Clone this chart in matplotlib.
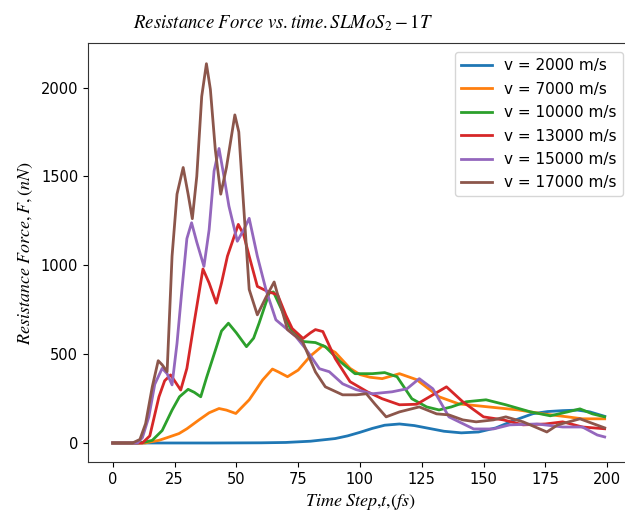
import matplotlib
matplotlib.use("Agg")
import matplotlib.pyplot as plt

plt.rcParams['mathtext.fontset'] = 'stix'

labels = ["v = 2000 m/s", "v = 7000 m/s", "v = 10000 m/s",
          "v = 13000 m/s", "v = 15000 m/s", "v = 17000 m/s"]

t_2000 = [0, 20, 40, 60, 70, 80, 90, 95, 100, 105, 110, 116, 122, 128, 134, 141, 148, 155, 162, 170, 176, 182, 188, 193, 199]
f_2000 = [0, 0, 0, 1, 3, 10, 25, 40, 60, 82, 100, 107, 98, 82, 66, 57, 62, 85, 125, 165, 177, 182, 185, 175, 150]

t_7000 = [0, 13, 18.7, 22, 26.8, 30, 34.9, 39, 43, 46, 49.8, 55.2, 58, 60.6, 64.6, 67, 70.7, 75, 80, 85, 90, 96, 100, 104, 109, 116, 123, 132, 140, 152, 164, 174, 184, 190, 199]
f_7000 = [0, 0, 15, 30, 53, 80, 130, 170, 194, 185, 166, 243, 300, 354, 416, 400, 373, 410, 490, 548, 510, 420, 385, 370, 362, 390, 356, 260, 220, 203, 186, 164, 147, 136, 136]

t_10000 = [0, 10, 13, 16, 20, 24, 27, 30.5, 33, 35.6, 38, 41.6, 44, 46.8, 50, 54.1, 57, 59.2, 63.3, 65, 68, 72, 77, 82, 86, 92, 98, 105, 110, 115, 121, 127, 132, 137, 143, 151, 159, 169, 177, 184, 189, 194, 199]
f_10000 = [0, 0, 5, 15, 70, 185, 260, 302, 285, 260, 370, 525, 630, 674, 620, 542, 590, 674, 844, 850, 760, 640, 571, 565, 542, 458, 390, 390, 396, 373, 249, 203, 186, 203, 232, 243, 215, 175, 153, 175, 192, 164, 147]

t_13000 = [0, 12, 15, 18.7, 21, 23.4, 25.5, 27.5, 30, 32.9, 36.5, 39, 41.9, 44, 46.4, 50.8, 53, 55.2, 58.5, 62.6, 66.7, 70, 72.6, 77, 80, 82, 85, 90, 96, 103, 109, 116, 123, 129.5, 135, 141.6, 150, 158, 166, 175, 182, 190, 199]
f_13000 = [0, 0, 40, 260, 350, 383, 340, 298, 420, 674, 979, 900, 787, 900, 1051, 1230, 1170, 1051, 881, 853, 834, 720, 644, 588, 620, 638, 627, 475, 345, 288, 249, 215, 218, 271, 316, 232, 147, 130, 102, 107, 119, 90, 80]

t_15000 = [0, 10, 12, 14.6, 17, 20, 22, 24, 26, 28, 30, 31.9, 34, 36.9, 39, 41, 43, 45, 47, 50.4, 53, 55.2, 58.5, 62, 66, 70.7, 74, 78, 83.6, 87.6, 93, 98.5, 105, 113, 119, 124, 129.5, 136, 146, 154, 160.6, 171.6, 182, 190, 196, 199]
f_15000 = [0, 0, 30, 147, 330, 420, 390, 327, 560, 864, 1150, 1239, 1130, 994, 1200, 1530, 1657, 1500, 1333, 1135, 1200, 1264, 1051, 862, 693, 638, 600, 531, 418, 401, 333, 300, 277, 288, 305, 362, 305, 147, 79, 79, 102, 107, 90, 90, 45, 34]

t_17000 = [0, 8, 11, 13.3, 16, 18.4, 20, 22, 24, 26, 28.5, 30.5, 32.2, 34, 36, 37.9, 39.5, 41.5, 43.7, 46, 49.4, 51, 52.5, 55.2, 58.5, 62, 65.3, 68, 70.7, 76.8, 82, 86, 93, 98.5, 102.6, 106, 110.6, 116, 124, 131, 136, 141.6, 147, 154, 159, 166, 175.6, 180, 189, 199]
f_17000 = [0, 0, 20, 109, 316, 463, 440, 401, 1051, 1400, 1550, 1400, 1262, 1500, 1950, 2134, 1990, 1650, 1400, 1550, 1846, 1750, 1430, 864, 721, 820, 906, 770, 638, 570, 400, 316, 271, 271, 277, 220, 147, 175, 203, 164, 158, 130, 119, 130, 147, 119, 62, 102, 136, 85]

series = [(t_2000, f_2000), (t_7000, f_7000), (t_10000, f_10000),
          (t_13000, f_13000), (t_15000, f_15000), (t_17000, f_17000)]
colors = ['#1f77b4', '#ff7f0e', '#2ca02c', '#d62728', '#9467bd', '#8c564b']

fig = plt.figure(figsize=(6.25, 5.13), dpi=100)
ax = fig.add_axes([0.1408, 0.0994, 0.8702, 0.8166])
for (t, f), c, lab in zip(series, colors, labels):
    ax.plot(t, f, color=c, lw=2, label=lab, solid_joinstyle='round')

ax.set_xlim(-10, 210)
ax.set_ylim(-107, 2250)
ax.set_xticks([0, 25, 50, 75, 100, 125, 150, 175, 200])
ax.set_yticks([0, 500, 1000, 1500, 2000])
for s in ax.spines.values():
    s.set_color('#333333')
ax.spines['right'].set_visible(False)
ax.tick_params(labelsize=10.5)

ax.legend(loc='upper right', fontsize=11, borderaxespad=0.6, labelspacing=0.55)
fig.text(0.453, 0.955, r'$Resistance\ Force\ vs.time.SLMoS_2-1T$', ha='center', va='center', fontsize=13.5)
ax.set_ylabel(r'$Resistance\ Force,F,(nN)$', fontsize=13)
ax.set_xlabel(r'$Time\ Step{,}t{,}(fs)$', fontsize=13)

fig.savefig('out.png', dpi=100)
